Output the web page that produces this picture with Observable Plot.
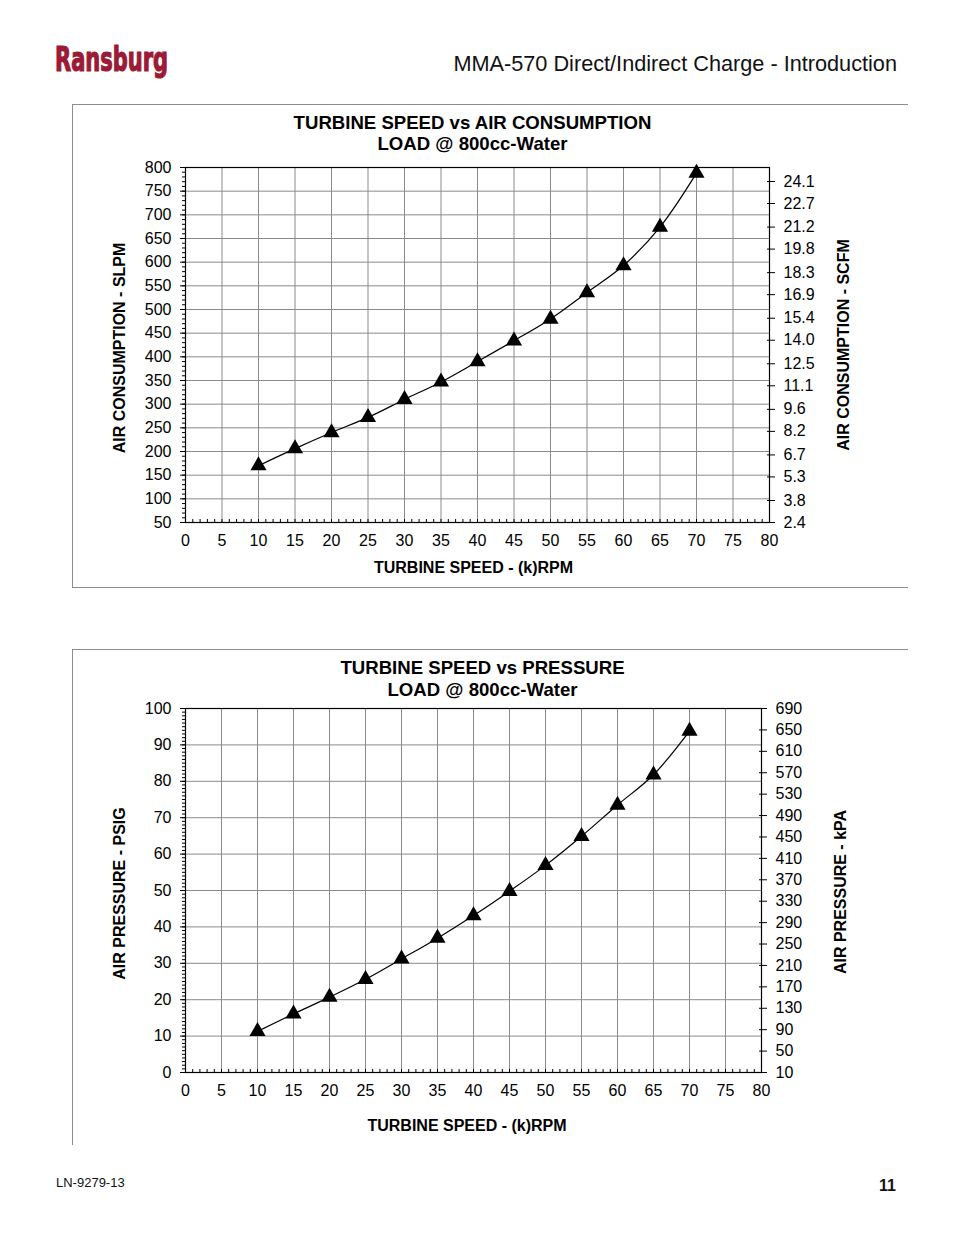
<!DOCTYPE html>
<html><head><meta charset="utf-8">
<script src="https://cdn.jsdelivr.net/npm/d3@7"></script>
<script src="https://cdn.jsdelivr.net/npm/@observablehq/plot@0.6"></script>
<style>
body{margin:0;background:#fff;}
#page{position:relative;width:954px;height:1235px;font-family:"Liberation Sans",Arial,Helvetica,sans-serif;overflow:hidden;}
#page svg{position:absolute;left:0;}
</style></head><body><div id="page"></div>
<script>
// ---- data ----
const speedK = [10,15,20,25,30,35,40,45,50,55,60,65,70];
const airSLPM = [170,206,240,272,310,347,390,434,480,536,593,674,788];
const pressurePSIG = [11.3,16.1,20.7,25.6,31.2,36.9,43.1,49.8,56.9,64.9,73.5,81.8,93.8];
const xTicks = [0,5,10,15,20,25,30,35,40,45,50,55,60,65,70,75,80];
const slpmTicks = [50,100,150,200,250,300,350,400,450,500,550,600,650,700,750,800];
const scfmTicks = [2.4,3.8,5.3,6.7,8.2,9.6,11.1,12.5,14.0,15.4,16.9,18.3,19.8,21.2,22.7,24.1];
const psigTicks = [0,10,20,30,40,50,60,70,80,90,100];
const kpaTicks = [10,50,90,130,170,210,250,290,330,370,410,450,490,530,570,610,650,690];

const font = '"Liberation Sans", Arial, Helvetica, sans-serif';
const gridColor = "#8a8a8a";
const page = document.getElementById("page");

// secondary-axis conversions (as printed on the chart)
const scfmToSlpm = v => 50 + (v - 2.4) * (720.4 / 21.7);
const kpaToPsig = v => (v - 10) / 6.8;

function chart({data, yKey, yDomain, yTicks, yMinor, rightTicks, rightToY, rightFmt,
                height, marginTop, marginBottom, marginRight,
                title1, title2, titleDx, t1dy, t2dy, xLabel, xLabelDx, xLabelDy,
                yLabel, yLabelDx, yLabelDy, rLabel, rLabelDx, rLabelDy}) {
  const rightPos = rightTicks.map(rightToY);
  const rightMap = new Map(rightPos.map((p, i) => [p, rightFmt(rightTicks[i])]));
  const txt = (s, o) => Plot.text([s], {text: d => d, fill: "black", textAnchor: "middle", ...o});
  return Plot.plot({
    width: 954, height, marginTop, marginBottom, marginLeft: 185, marginRight,
    style: {fontFamily: font, fontSize: "16px", background: "transparent", color: "black", overflow: "visible"},
    x: {domain: [0, 80]},
    y: {domain: yDomain},
    marks: [
      Plot.gridX(xTicks.slice(1, -1), {stroke: gridColor, strokeOpacity: 1}),
      Plot.gridY(yTicks.slice(1, -1), {stroke: gridColor, strokeOpacity: 1}),
      Plot.axisX(xTicks, {tickSize: 0, tickPadding: 12, label: null}),
      Plot.axisX(d3.range(0, 81, 1), {tickSize: -3, tickFormat: () => "", label: null}),
      Plot.axisY(yTicks, {tickSize: 5, tickPadding: 9, label: null}),
      Plot.axisY(yMinor, {tickSize: 3, tickFormat: () => "", label: null}),
      Plot.axisY(rightPos, {anchor: "right", tickSize: 5, tickPadding: 9, tickFormat: d => rightMap.get(d), label: null}),
      Plot.axisY(rightPos, {anchor: "right", tickSize: -3, tickFormat: () => "", label: null}),
      Plot.frame({stroke: "black", strokeWidth: 1.2}),
      Plot.line(data, {x: "speed", y: yKey, curve: "catmull-rom", stroke: "black", strokeWidth: 1.2}),
      Plot.dot(data, {x: "speed", y: yKey, symbol: "triangle", r: 6, fill: "black", stroke: "none"}),
      txt(title1, {frameAnchor: "top", dx: titleDx, dy: t1dy, lineAnchor: "bottom", fontWeight: "bold", fontSize: 18.6}),
      txt(title2, {frameAnchor: "top", dx: titleDx, dy: t2dy, lineAnchor: "bottom", fontWeight: "bold", fontSize: 18.6}),
      txt(xLabel, {frameAnchor: "bottom", dx: xLabelDx, dy: xLabelDy, lineAnchor: "bottom", fontWeight: "bold", fontSize: 16}),
      txt(yLabel, {frameAnchor: "left", dx: yLabelDx, dy: yLabelDy, rotate: -90, fontWeight: "bold", fontSize: 16}),
      txt(rLabel, {frameAnchor: "right", dx: rLabelDx, dy: rLabelDy, rotate: -90, fontWeight: "bold", fontSize: 16})
    ]
  });
}

const d1 = speedK.map((s, i) => ({speed: s, slpm: airSLPM[i]}));
const d2 = speedK.map((s, i) => ({speed: s, psig: pressurePSIG[i]}));

const c1 = chart({
  data: d1, yKey: "slpm", yDomain: [50, 800], yTicks: slpmTicks, yMinor: d3.range(50, 801, 10),
  rightTicks: scfmTicks, rightToY: scfmToSlpm, rightFmt: v => v.toFixed(1),
  height: 483, marginTop: 63, marginBottom: 65, marginRight: 185,
  title1: "TURBINE SPEED vs AIR CONSUMPTION", title2: "LOAD @ 800cc-Water", titleDx: -5, t1dy: -39, t2dy: -18,
  xLabel: "TURBINE SPEED - (k)RPM", xLabelDx: -4, xLabelDy: 50,
  yLabel: "AIR CONSUMPTION - SLPM", yLabelDx: -66, yLabelDy: 3,
  rLabel: "AIR CONSUMPTION - SCFM", rLabelDx: 74, rLabelDy: 0
});
c1.style.top = "104px";
page.appendChild(c1);

const c2 = chart({
  data: d2, yKey: "psig", yDomain: [0, 100], yTicks: psigTicks, yMinor: d3.range(0, 101, 1),
  rightTicks: kpaTicks, rightToY: kpaToPsig, rightFmt: v => String(v),
  height: 496, marginTop: 59, marginBottom: 73, marginRight: 193,
  title1: "TURBINE SPEED vs PRESSURE", title2: "LOAD @ 800cc-Water", titleDx: 9, t1dy: -35, t2dy: -13,
  xLabel: "TURBINE SPEED - (k)RPM", xLabelDx: -6.5, xLabelDy: 58,
  yLabel: "AIR PRESSURE - PSIG", yLabelDx: -66, yLabelDy: 3,
  rLabel: "AIR PRESSURE - kPA", rLabelDx: 79, rLabelDy: 1.5
});
c2.style.top = "649px";
page.appendChild(c2);

// ---- page decoration: header, box rules, footer ----
const ns = "http://www.w3.org/2000/svg";
const deco = document.createElementNS(ns, "svg");
deco.setAttribute("width", 954); deco.setAttribute("height", 1235);
deco.style.top = "0px"; deco.style.pointerEvents = "none";
deco.innerHTML = `
  <text x="55" y="70.5" font-family="'Liberation Sans Narrow','Arial Narrow','DejaVu Sans Condensed',sans-serif"
        font-weight="bold" font-size="33" fill="#9b1a36" stroke="#9b1a36" stroke-width="1.2"
        textLength="113" lengthAdjust="spacingAndGlyphs">Ransburg</text>
  <text x="897" y="71" text-anchor="end" font-family='${font}' font-size="21.7" fill="#111">MMA-570 Direct/Indirect Charge - Introduction</text>
  <g stroke="#8c8c8c" stroke-width="1" fill="none">
    <path d="M72,104.5H908"/>
    <path d="M72.5,104V587"/>
    <path d="M72,587.5H908"/>
    <path d="M72,649.5H908"/>
    <path d="M72.5,649V1145"/>
  </g>
  <text x="56" y="1187" font-family='${font}' font-size="13" fill="#111">LN-9279-13</text>
  <text x="896" y="1190.5" text-anchor="end" font-family='${font}' font-size="16" font-weight="bold" fill="#111">11</text>
`;
page.appendChild(deco);
</script>
</body></html>
